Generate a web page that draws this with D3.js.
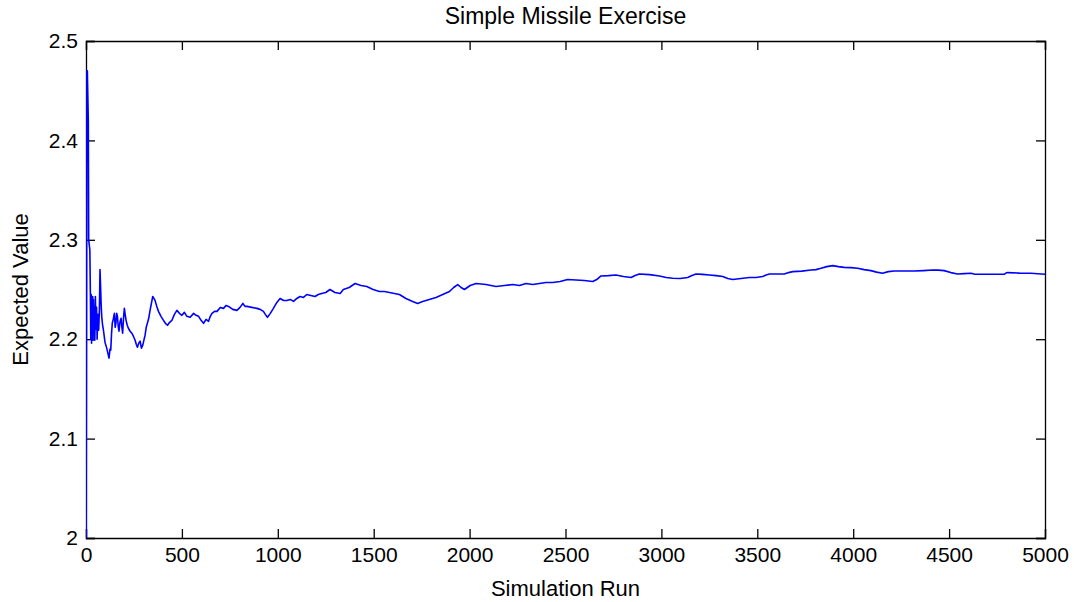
<!DOCTYPE html>
<html>
<head>
<meta charset="utf-8">
<script src="https://cdn.jsdelivr.net/npm/d3@7"></script>
<style>
body{margin:0;background:#fff;}
text{font-family:"Liberation Sans", Arial, sans-serif;}
</style>
</head>
<body>
<svg id="chart" width="1074" height="602"></svg>
<script>
//running expected value (run number, value)
var runs = [1, 5, 7, 12, 14, 20, 23, 25, 27, 29, 31, 33, 35, 37, 39, 41, 43, 46, 49, 52,
    55, 58, 62, 66, 70, 73, 76, 79, 82, 86, 91, 99, 108, 114, 120, 125, 129, 133, 137, 142,
    148, 152, 156, 160, 164, 168, 172, 177, 183, 187, 191, 196, 200, 204, 209, 215, 221, 230, 239, 247,
    256, 262, 268, 275, 282, 289, 296, 302, 308, 314, 320, 327, 334, 341, 348, 354, 360, 369, 378, 391,
    404, 414, 425, 436, 448, 461, 474, 487, 500, 513, 526, 543, 561, 574, 587, 600, 613, 626, 639, 648,
    657, 670, 683, 700, 717, 730, 743, 765, 787, 803, 818, 829, 839, 865, 891, 908, 925, 935, 946, 961,
    977, 995, 1012, 1030, 1047, 1065, 1082, 1099, 1116, 1134, 1151, 1172, 1194, 1211, 1229, 1250, 1272, 1298, 1325, 1342,
    1372, 1403, 1434, 1464, 1497, 1530, 1556, 1582, 1608, 1634, 1668, 1703, 1729, 1755, 1790, 1825, 1860, 1895, 1917, 1938,
    1956, 1973, 2003, 2034, 2086, 2138, 2181, 2225, 2260, 2294, 2329, 2364, 2398, 2433, 2472, 2511,
    2555, 2598, 2642, 2663, 2685, 2724, 2763, 2802, 2842, 2863, 2885, 2938, 2990, 3025, 3059, 3098, 3137, 3159, 3181, 3215,
    3250, 3285, 3320, 3346, 3372, 3415, 3459, 3493, 3528, 3546, 3563, 3602, 3641, 3663, 3685, 3732, 3780, 3806, 3832, 3862,
    3893, 3923, 3953, 3988, 4023, 4057, 4092, 4122, 4153, 4183, 4214, 4266, 4318, 4366, 4414, 4444, 4474, 4509, 4544, 4579,
    4614, 4631, 4648, 4718, 4787, 4796, 4805, 4866, 4926, 4963, 5000];
var values = [2.0, 2.47, 2.47, 2.42, 2.30, 2.29, 2.243, 2.20, 2.245, 2.196, 2.238, 2.20, 2.243, 2.199, 2.24, 2.205, 2.233, 2.199, 2.243, 2.21,
    2.232, 2.20, 2.225, 2.209, 2.23, 2.270, 2.253, 2.235, 2.223, 2.215, 2.209, 2.197, 2.191, 2.186, 2.181, 2.19, 2.189, 2.205, 2.216, 2.22,
    2.226, 2.212, 2.216, 2.226, 2.223, 2.213, 2.208, 2.217, 2.221, 2.212, 2.206, 2.222, 2.231, 2.225, 2.219, 2.214, 2.211, 2.208, 2.206, 2.203,
    2.199, 2.195, 2.192, 2.196, 2.198, 2.191, 2.194, 2.199, 2.204, 2.212, 2.216, 2.221, 2.229, 2.236, 2.243, 2.241, 2.239, 2.233, 2.228, 2.223,
    2.219, 2.216, 2.214, 2.217, 2.219, 2.225, 2.229, 2.226, 2.224, 2.227, 2.223, 2.222, 2.226, 2.224, 2.223, 2.219, 2.216, 2.22, 2.218, 2.223,
    2.226, 2.228, 2.228, 2.232, 2.231, 2.234, 2.233, 2.23, 2.229, 2.232, 2.236, 2.233, 2.233, 2.232, 2.231, 2.23, 2.228, 2.225, 2.222, 2.226,
    2.231, 2.237, 2.241, 2.239, 2.239, 2.24, 2.238, 2.241, 2.243, 2.242, 2.245, 2.244, 2.243, 2.245, 2.246, 2.247, 2.250, 2.247, 2.246, 2.250,
    2.252, 2.256, 2.254, 2.253, 2.25, 2.248, 2.248, 2.247, 2.246, 2.245, 2.241, 2.238, 2.236, 2.238, 2.24, 2.242, 2.245, 2.248, 2.252, 2.255,
    2.252, 2.250, 2.254, 2.256, 2.255, 2.253, 2.254, 2.255, 2.254, 2.256, 2.255, 2.256, 2.257, 2.257, 2.258, 2.260,
    2.2596, 2.259, 2.258, 2.26, 2.2636, 2.264, 2.2646, 2.263, 2.262, 2.264, 2.2656, 2.265, 2.2636, 2.262, 2.2613, 2.261, 2.262, 2.264, 2.2656, 2.2652,
    2.2646, 2.264, 2.263, 2.261, 2.260, 2.261, 2.262, 2.262, 2.263, 2.2645, 2.2656, 2.2656, 2.2656, 2.267, 2.268, 2.2685, 2.2696, 2.270, 2.2713, 2.273,
    2.274, 2.273, 2.2723, 2.272, 2.2713, 2.270, 2.269, 2.2675, 2.2663, 2.268, 2.2686, 2.2686, 2.2686, 2.269, 2.2696, 2.2695, 2.269, 2.267, 2.2656, 2.266,
    2.2663, 2.2655, 2.2653, 2.2653, 2.2653, 2.2665, 2.267, 2.2665, 2.2663, 2.2658, 2.2653];

var xTicks = [0, 500, 1000, 1500, 2000, 2500, 3000, 3500, 4000, 4500, 5000];
var yTicks = [2, 2.1, 2.2, 2.3, 2.4, 2.5];

var titleText = "Simple Missile Exercise";
var xLabel = "Simulation Run";
var yLabel = "Expected Value";

var margin = {top: 41, right: 29, bottom: 64, left: 86};
var width = 1074 - margin.left - margin.right;
var height = 602 - margin.top - margin.bottom;
var tick = 9;

var svg = d3.select('#chart');
var g = svg.append('g').attr('transform', 'translate(' + margin.left + ',' + margin.top + ')');

var x = d3.scaleLinear().domain([0, 5000]).range([0, width]);
var y = d3.scaleLinear().domain([2, 2.5]).range([height, 0]);

var points = runs.map(function(r, i){ return [r, values[i]]; });

//clip so nothing leaks out of the box
g.append('clipPath').attr('id', 'clip')
    .append('rect').attr('width', width).attr('height', height);

//axes, ticks point inward like matlab
var fmt = function(d){ return String(d); };

g.append('g').attr('class', 'axis')
    .attr('transform', 'translate(0,' + height + ')')
    .call(d3.axisBottom(x).tickValues(xTicks).tickFormat(fmt).tickSize(-tick).tickPadding(9));
g.append('g').attr('class', 'axis')
    .call(d3.axisTop(x).tickValues(xTicks).tickFormat('').tickSize(-tick));
g.append('g').attr('class', 'axis')
    .call(d3.axisLeft(y).tickValues(yTicks).tickFormat(fmt).tickSize(-tick).tickPadding(8));
g.append('g').attr('class', 'axis')
    .attr('transform', 'translate(' + width + ',0)')
    .call(d3.axisRight(y).tickValues(yTicks).tickFormat('').tickSize(-tick));

g.selectAll('.axis path').attr('stroke', '#000').attr('stroke-width', 1.3);
g.selectAll('.axis line').attr('stroke', '#000').attr('stroke-width', 1.3);
g.selectAll('.axis text').attr('fill', '#000').style('font-size', '21px');

//the series
var line = d3.line()
    .x(function(d){ return x(d[0]); })
    .y(function(d){ return y(d[1]); });

g.append('path')
    .datum(points)
    .attr('clip-path', 'url(#clip)')
    .attr('fill', 'none')
    .attr('stroke', '#0000ff')
    .attr('stroke-width', 1.6)
    .attr('stroke-linejoin', 'round')
    .attr('d', line);

//labels
svg.append('text')
    .attr('x', margin.left + width / 2).attr('y', 24)
    .attr('text-anchor', 'middle').style('font-size', '23px')
    .text(titleText);

svg.append('text')
    .attr('x', margin.left + width / 2).attr('y', 596)
    .attr('text-anchor', 'middle').style('font-size', '22px')
    .text(xLabel);

svg.append('text')
    .attr('transform', 'translate(28,' + (margin.top + height / 2) + ') rotate(-90)')
    .attr('text-anchor', 'middle').style('font-size', '22px')
    .text(yLabel);
</script>
</body>
</html>
